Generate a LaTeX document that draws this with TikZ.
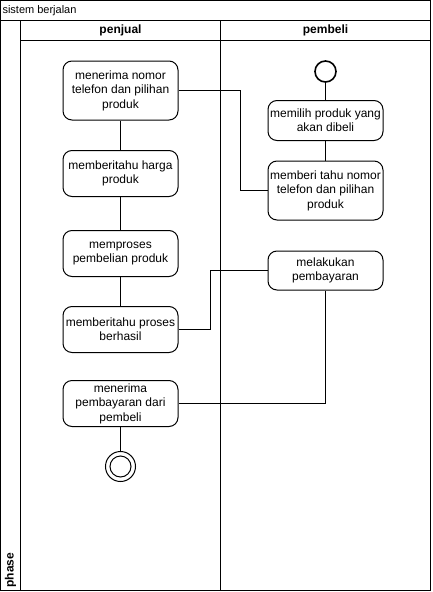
\documentclass[tikz,border=0pt]{standalone}
\usepackage{fontspec}
\setmainfont{Liberation Sans}
\begin{document}
\begin{tikzpicture}[x=1pt,y=-1pt,line width=1pt,
  act/.style={draw,rounded corners=9pt,minimum width=115pt,align=center,inner sep=0pt,
    font=\fontsize{12}{14.4}\selectfont},
  lane/.style={draw},
  lbl/.style={font=\fontsize{12}{14.4}\selectfont\bfseries}]
\useasboundingbox (0,0) rectangle (432,592);
% swimlane frame
\draw (0.5,0.5) rectangle (430.5,590.5);
\draw (0.5,20.5) -- (430.5,20.5);
\draw (20.5,20.5) -- (20.5,590.5);
\draw (20.5,40.5) -- (430.5,40.5);
\draw (220.5,20.5) -- (220.5,590.5);
\node[anchor=west,font=\fontsize{11}{13}\selectfont,inner sep=0pt] (title) at (2,10.5) {sistem berjalan};
\node[lbl] (lp) at (120.5,30.5) {penjual};
\node[lbl] (lb) at (325.5,30.5) {pembeli};
\node[lbl,rotate=90,anchor=west,inner sep=0pt] (ph) at (10.5,588) {phase};
% penjual
\node[act,minimum height=59pt] (n1) at (120.5,90.5) {menerima nomor\\telefon dan pilihan\\produk};
\node[act,minimum height=46pt] (n2) at (120.5,173.5) {memberitahu harga\\produk};
\node[act,minimum height=46pt] (n3) at (120.5,253.5) {memproses\\pembelian produk};
\node[act,minimum height=46pt] (n4) at (120.5,329.5) {memberitahu proses\\berhasil};
\node[act,minimum height=46pt] (n5) at (120.5,403.5) {menerima\\pembayaran dari\\pembeli};
\node[draw,circle,minimum size=30pt,inner sep=0pt] (fin) at (120.5,466.5) {};
\node[draw,circle,minimum size=21pt,inner sep=0pt] (fini) at (fin.center) {};
% pembeli
\node[draw,circle,minimum size=21pt,inner sep=0pt,line width=1.6pt] (st) at (325.5,71.5) {};
\node[act,minimum height=40pt] (p1) at (325.5,120.5) {memilih produk yang\\akan dibeli};
\node[act,minimum height=59pt] (p2) at (325.5,190.5) {memberi tahu nomor\\telefon dan pilihan\\produk};
\node[act,minimum height=39pt] (p3) at (325.5,270.5) {melakukan\\pembayaran};
% connectors
\draw (st) -- (p1);
\draw (p1) -- (p2);
\draw (n1) -- (n2);
\draw (n2) -- (n3);
\draw (n3) -- (n4);
\draw (n5) -- (fin);
\draw (n1.east) -- ++(62,0) |- (p2.west);
\draw (n4.east) -- ++(32,0) |- (p3.west);
\draw (p3.south) |- (n5.east);
\end{tikzpicture}
\end{document}
